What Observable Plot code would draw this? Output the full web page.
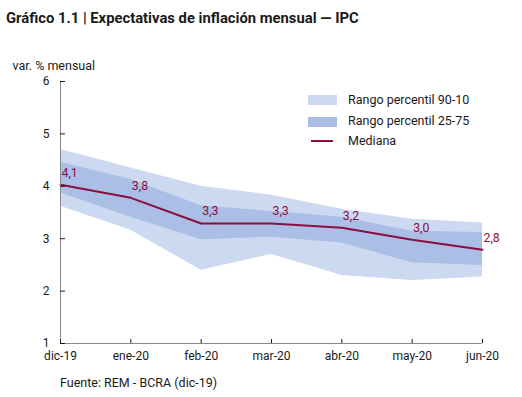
<!DOCTYPE html>
<html>
<head>
<meta charset="utf-8">
<script src="https://cdn.jsdelivr.net/npm/d3@7"></script>
<script src="https://cdn.jsdelivr.net/npm/@observablehq/plot@0.6"></script>
<style>
  body { margin: 0; background: #fff; }
  #wrap { position: relative; width: 522px; height: 397px; font-family: Roboto, sans-serif; color: #1a1a1a; }
  #title { position: absolute; left: 6px; top: 9px; font-weight: bold; font-size: 14.8px; white-space: nowrap; }
  #chart { position: absolute; left: 0; top: 40px; }
  .sw { position: absolute; }
  .lt { position: absolute; left: 348px; font-size: 12.5px; line-height: 14px; white-space: nowrap; }
  #caption { position: absolute; left: 60px; top: 375px; font-size: 12.5px; white-space: nowrap; }
</style>
</head>
<body>
<div id="wrap">
  <div id="title">Gráfico 1.1 | Expectativas de inflación mensual — IPC</div>
  <div id="chart"></div>
  <div id="legend"></div>
  <div id="caption">Fuente: REM - BCRA (dic-19)</div>
</div>
<script>
const months = ["dic-19","ene-20","feb-20","mar-20","abr-20","may-20","jun-20"];
const p90 = [4.70, 4.35, 4.00, 3.83, 3.56, 3.37, 3.30];
const p75 = [4.46, 4.13, 3.63, 3.52, 3.41, 3.14, 3.12];
const mediana = [4.03, 3.78, 3.29, 3.29, 3.21, 2.98, 2.79];
const p25 = [3.87, 3.41, 2.98, 3.03, 2.92, 2.54, 2.49];
const p10 = [3.62, 3.16, 2.40, 2.70, 2.30, 2.20, 2.27];
const etiquetas = ["4,1","3,8","3,3","3,3","3,2","3,0","2,8"];
const yTicks = [1, 2, 3, 4, 5, 6];
const legendItems = ["Rango percentil 90-10", "Rango percentil 25-75", "Mediana"];

const cLight = "#cdd9f0";
const cDark = "#abbee6";
const cMed = "#8c0d3f";
const font = 'Roboto, sans-serif';
const idx = months.map((d, i) => i);

const chart = Plot.plot({
  width: 522,
  height: 330,
  marginTop: 41,
  marginBottom: 27,
  marginLeft: 60,
  marginRight: 40,
  style: { fontFamily: font, fontSize: "12px", color: "#1a1a1a", background: "transparent" },
  x: { domain: [0, months.length - 1] },
  y: { domain: [1, 6] },
  marks: [
    Plot.areaY(idx, { x: i => i, y1: i => p10[i], y2: i => p90[i], fill: cLight }),
    Plot.areaY(idx, { x: i => i, y1: i => p25[i], y2: i => p75[i], fill: cDark }),
    Plot.lineY(idx, { x: i => i, y: i => mediana[i], stroke: cMed, strokeWidth: 2 }),
    Plot.text(idx, { x: i => i, y: i => mediana[i], text: i => etiquetas[i], dx: 1, dy: -12, textAnchor: "start", fill: cMed, fontSize: 12.3 }),
    Plot.ruleX([0], { stroke: "#8a8a8a" }),
    Plot.ruleY([1], { stroke: "#8a8a8a" }),
    Plot.axisY({ ticks: yTicks, tickSize: -5, tickPadding: 16, label: null, tickFormat: d => String(d) }),
    Plot.axisX({ ticks: idx, tickFormat: i => months[i], tickSize: -4, tickPadding: 12, label: null }),
    Plot.text(["var. % mensual"], { text: d => d, frameAnchor: "top-left", dx: -48, dy: -20, textAnchor: "start", fill: "#1a1a1a", fontSize: 12.5 })
  ]
});
document.getElementById("chart").appendChild(chart);

// legend
const leg = document.getElementById("legend");
const rows = [
  { type: "box", color: cLight, top: 95, h: 10, ty: 93 },
  { type: "box", color: cDark, top: 116.5, h: 10, ty: 114 },
  { type: "line", color: cMed, top: 140, h: 2, ty: 134 }
];
rows.forEach((r, k) => {
  const s = document.createElement("div");
  s.className = "sw";
  s.style.background = r.color;
  s.style.top = r.top + "px";
  s.style.height = r.h + "px";
  if (r.type === "box") { s.style.left = "308px"; s.style.width = "29px"; }
  else { s.style.left = "311px"; s.style.width = "22px"; }
  leg.appendChild(s);
  const t = document.createElement("div");
  t.className = "lt";
  t.style.top = r.ty + "px";
  t.textContent = legendItems[k];
  leg.appendChild(t);
});
</script>
</body>
</html>
